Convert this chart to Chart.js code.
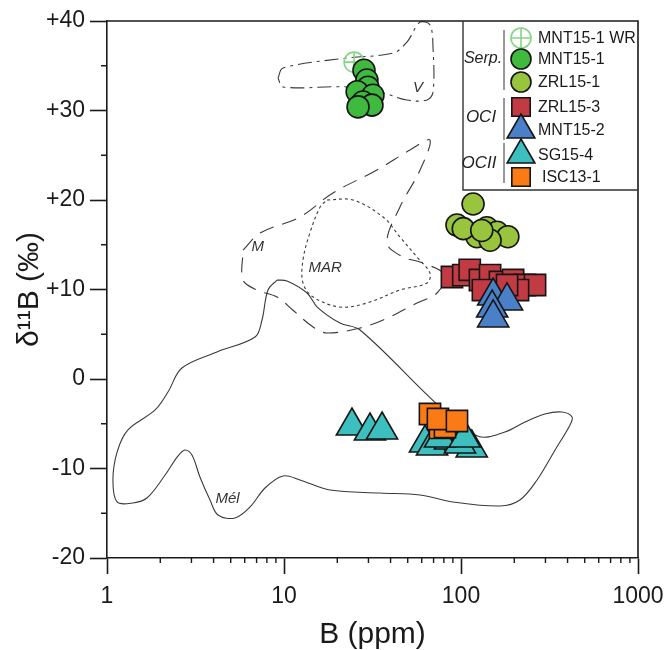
<!DOCTYPE html>
<html>
<head>
<meta charset="utf-8">
<script src="https://cdn.jsdelivr.net/npm/chart.js@4.4.1/dist/chart.umd.min.js"></script>
<style>
  html, body { margin: 0; padding: 0; background: #fff; }
  #wrap { position: relative; width: 667px; height: 650px; }
</style>
</head>
<body>
<div id="wrap"><canvas id="boronChart"></canvas></div>
<script>
// --- samples: B (ppm) and d11B (permil) ---
const wrB = [24.9];
const wrD = [35.4];
const mnt151B = [28.3, 29.4, 29.8, 25.9, 31.8, 27.9, 31.4, 26.2];
const mnt151D = [34.5, 33.4, 32.6, 32.1, 31.7, 30.95, 30.6, 30.4];
const zrl151B = [117, 94.9, 123, 140, 160, 184, 146, 103, 131];
const zrl151D = [19.55, 17.2, 15.9, 16.9, 16.4, 15.9, 15.5, 16.8, 16.6];
const zrl153B = [88.9, 103, 112, 128, 146, 166, 197, 230, 262, 133, 210, 182];
const zrl153D = [11.4, 11.6, 12.2, 11.06, 11.6, 10.84, 11.06, 10.5, 10.5, 9.94, 9.94, 10.5];
const mnt152B = [152, 182, 150, 152];
const mnt152D = [9.27, 8.72, 7.93, 6.82];
const sg154B = [24.2, 30.6, 35.8, 62.6, 68.6, 115, 86.7, 98.7, 76.1, 105];
const sg154D = [-5.25, -5.81, -5.7, -7.15, -7.49, -7.71, -6.82, -7.26, -6.6, -6.6];
const isc131B = [76.1, 81.2, 66.8, 74.1, 94.9];
const isc131D = [-5.47, -5.36, -3.91, -4.47, -4.69];

// --- reference fields (outlines) ---
const melB = [9.13, 8.12, 7.51, 6.86, 4.18, 2.65, 2.21, 1.87, 1.31, 1.14, 1.08, 1.14, 1.40, 1.68, 2.13, 2.49, 2.76, 3.02, 3.35, 3.82, 4.24, 5.29, 6.43, 7.81, 9.87, 12.3, 18.2, 34.9, 58.7, 90.1, 166, 215, 269, 340, 413, 424, 372, 298, 230, 177, 125, 76.1, 26.9, 20.7, 15.4, 13.5, 10.4, 9.13];
const melD = [11.06, 9.94, 6.59, 4.69, 3.02, 1.23, -1.45, -3.46, -5.7, -8.16, -11.28, -13.74, -13.85, -13.3, -10.73, -8.72, -7.93, -8.49, -10.95, -13.52, -15.2, -15.53, -14.3, -12.18, -10.84, -11.28, -12.4, -12.74, -12.96, -13.74, -14.19, -13.52, -11.28, -7.93, -5.14, -4.25, -3.69, -3.91, -4.8, -5.92, -6.4, -3.13, 5.47, 6.26, 8.04, 9.61, 10.95, 11.06];
const mB = [5.87, 7.32, 12.3, 18.9, 33.5, 51.5, 66.8, 58.7, 45.2, 38.2, 47.0, 58.7, 81.2, 73.2, 56.4, 36.3, 26.9, 17.5, 14.6, 11.2, 9.13, 7.03, 5.87, 5.87];
const mD = [14.41, 16.31, 18.1, 20.78, 23.35, 25.59, 26.7, 23.35, 19.22, 15.2, 13.63, 13.07, 11.62, 9.61, 8.49, 6.59, 5.7, 5.14, 5.81, 7.71, 9.16, 9.94, 11.06, 14.41];
const marB = [17.5, 24.5, 36.3, 45.2, 56.4, 66.8, 64.3, 45.2, 29.4, 20.7, 14.6, 12.8, 12.8, 14.0, 16.0, 17.5];
const marD = [20.0, 20.0, 18.1, 15.87, 13.63, 11.84, 10.73, 9.94, 8.49, 8.04, 9.16, 10.73, 13.3, 16.31, 19.22, 20.0];
const vB = [9.25, 9.87, 22.7, 41.3, 49.5, 58.7, 66.8, 69.5, 69.5, 64.3, 49.5, 36.3, 22.7, 9.87, 9.25];
const vD = [33.63, 34.75, 35.87, 36.42, 37.65, 39.89, 39.55, 36.98, 32.07, 31.17, 31.17, 31.96, 32.63, 32.63, 33.63];

const fieldNames = ['V', 'M', 'MAR', 'Mél'];
const fieldNameB = [57.2, 7.1, 17.1, 4.8];
const fieldNameD = [32.5, 14.8, 12.4, -13.4];

const yTicks = [-20, -10, 0, 10, 20, 30, 40];
const yMinor = [-15, -5, 5, 15, 25, 35];
const xTicks = [1, 10, 100, 1000];
const xMinor = [2, 3, 4, 5, 6, 7, 8, 9, 20, 30, 40, 50, 60, 70, 80, 90, 200, 300, 400, 500, 600, 700, 800, 900];

const pts = (xs, ys) => xs.map((x, i) => ({ x: x, y: ys[i] }));
const INK = '#1a1a1a';
const FONT = "'Liberation Sans', Arial, sans-serif";

function field(xs, ys, dash, order) {
    return {
        type: 'line', data: pts(xs, ys), borderColor: '#3a3a3a', borderWidth: 1.1,
        borderDash: dash, pointRadius: 0, tension: 0.35, fill: false, order: order
    };
}
function sample(xs, ys, style, r, color, order) {
    return {
        data: pts(xs, ys), pointStyle: style, pointRadius: r, pointHoverRadius: r,
        backgroundColor: color, borderColor: '#151515', pointBorderWidth: 1.6, order: order
    };
}

// legend rows: marker style, radius, fill, label
const legendRows = [
    ['circle', 10, null, 'MNT15-1 WR'],
    ['circle', 10, '#3fba3f', 'MNT15-1'],
    ['circle', 10, '#98c43e', 'ZRL15-1'],
    ['rect', 13, '#c23b43', 'ZRL15-3'],
    ['triangle', 16, '#4a80c8', 'MNT15-2'],
    ['triangle', 16, '#3ebfbf', 'SG15-4'],
    ['rect', 13, '#fa7b16', 'ISC13-1']
];
const legendRowY = [38, 59, 82, 107, 130, 155, 177];

const decorPlugin = {
    id: 'decor',
    afterDraw(chart) {
        const ctx = chart.ctx, a = chart.chartArea;
        const xs = chart.scales.x, ys = chart.scales.y;
        ctx.save();
        ctx.strokeStyle = INK;
        ctx.lineWidth = 1.6;
        // frame top + right
        ctx.beginPath();
        ctx.moveTo(a.left, a.top); ctx.lineTo(a.right, a.top); ctx.lineTo(a.right, a.bottom);
        ctx.stroke();
        // minor ticks
        ctx.lineWidth = 1.4;
        ctx.beginPath();
        yMinor.forEach(v => { const p = ys.getPixelForValue(v); ctx.moveTo(a.left - 6, p); ctx.lineTo(a.left, p); });
        xMinor.forEach(v => { const p = xs.getPixelForValue(v); ctx.moveTo(p, a.bottom); ctx.lineTo(p, a.bottom + 5); });
        ctx.stroke();

        // field labels
        ctx.fillStyle = '#333';
        ctx.font = 'italic 15px ' + FONT;
        ctx.textAlign = 'center';
        ctx.textBaseline = 'middle';
        fieldNames.forEach((t, i) => ctx.fillText(t, xs.getPixelForValue(fieldNameB[i]), ys.getPixelForValue(fieldNameD[i])));

        // legend box
        const L = a.right - 175, B = a.top + 169;
        ctx.fillStyle = '#fff';
        ctx.fillRect(L, a.top + 1, a.right - L - 1, B - a.top - 1);
        ctx.strokeStyle = '#333';
        ctx.lineWidth = 1.4;
        ctx.beginPath();
        ctx.moveTo(L, a.top); ctx.lineTo(L, B); ctx.lineTo(a.right, B);
        ctx.stroke();
        ctx.lineWidth = 1;
        ctx.beginPath();
        ctx.moveTo(L + 41, a.top + 9); ctx.lineTo(L + 41, a.top + 69);
        ctx.moveTo(L + 41, a.top + 77); ctx.lineTo(L + 41, a.top + 119);
        ctx.moveTo(L + 41, a.top + 122); ctx.lineTo(L + 41, a.top + 162);
        ctx.stroke();
        ctx.fillStyle = '#222';
        ctx.font = 'italic 16px ' + FONT;
        ctx.textAlign = 'center';
        ctx.fillText('Serp.', L + 20, legendRowY[1]);
        ctx.font = 'italic 17px ' + FONT;
        ctx.fillText('OCI', L + 18, 117);
        ctx.fillText('OCII', L + 16, 163);

        const mx = L + 58;
        legendRows.forEach((row, i) => {
            const y = legendRowY[i];
            ctx.lineWidth = 1.6;
            if (row[2]) {
                ctx.fillStyle = row[2];
                ctx.strokeStyle = '#151515';
                Chart.helpers.drawPoint(ctx, { pointStyle: row[0], radius: row[1], rotation: 0, borderWidth: 1.6 }, mx, y);
            } else {
                ctx.fillStyle = 'rgba(255,255,255,0)';
                ctx.strokeStyle = '#86d486';
                Chart.helpers.drawPoint(ctx, { pointStyle: 'circle', radius: row[1], rotation: 0, borderWidth: 1.6 }, mx, y);
                Chart.helpers.drawPoint(ctx, { pointStyle: 'cross', radius: row[1], rotation: 0, borderWidth: 1.6 }, mx, y);
            }
            ctx.fillStyle = '#1a1a1a';
            ctx.font = '16px ' + FONT;
            ctx.textAlign = 'left';
            ctx.fillText(row[3], i === 6 ? mx + 21 : mx + 17, y + 1);
        });
        ctx.restore();
    }
};

const canvas = document.getElementById('boronChart');
new Chart(canvas.getContext('2d'), {
    type: 'scatter',
    data: {
        datasets: [
            field(melB, melD, [], 20),
            field(mB, mD, [15, 9], 20),
            field(marB, marD, [3, 3], 20),
            field(vB, vD, [14, 5, 3, 5], 20),
            { data: pts(wrB, wrD), pointStyle: 'circle', pointRadius: 10, backgroundColor: 'rgba(255,255,255,0)',
              borderColor: '#86d486', pointBorderWidth: 1.6, order: 9 },
            { data: pts(wrB, wrD), pointStyle: 'cross', pointRadius: 10, borderColor: '#86d486', pointBorderWidth: 1.6, order: 9 },
            sample(mnt151B, mnt151D, 'circle', 11, '#3fba3f', 5),
            sample(zrl151B, zrl151D, 'circle', 11, '#98c43e', 5),
            sample(zrl153B, zrl153D, 'rect', 15, '#c23b43', 6),
            sample(mnt152B, mnt152D, 'triangle', 18, '#4a80c8', 4),
            sample(sg154B, sg154D, 'triangle', 18, '#3ebfbf', 6),
            sample(isc131B, isc131D, 'rect', 15, '#fa7b16', 3)
        ]
    },
    options: {
        responsive: true,
        maintainAspectRatio: false,
        animation: false,
        layout: { padding: { left: 0, top: 21, right: 29, bottom: 0 } },
        plugins: { legend: { display: false }, tooltip: { enabled: false } },
        scales: {
            x: {
                type: 'logarithmic', min: 1, max: 1000, position: 'bottom',
                afterBuildTicks: s => { s.ticks = xTicks.map(v => ({ value: v })); },
                afterFit: s => { s.height = 92; s.paddingLeft = 0; s.paddingRight = 0; },
                border: { display: true, color: INK, width: 1.6 },
                grid: { drawOnChartArea: false, drawTicks: true, tickLength: 16, tickColor: INK, tickWidth: 1.6 },
                ticks: { color: INK, font: { family: FONT, size: 23 }, padding: 9, maxRotation: 0,
                         callback: v => String(v) },
                title: { display: true, text: 'B (ppm)', color: INK, font: { family: FONT, size: 30 }, padding: { top: 0, bottom: -3 } }
            },
            y: {
                min: -20, max: 40,
                afterBuildTicks: s => { s.ticks = yTicks.map(v => ({ value: v })); },
                afterFit: s => { s.width = 107; s.paddingTop = 0; s.paddingBottom = 0; },
                border: { display: true, color: INK, width: 1.6 },
                grid: { drawOnChartArea: false, drawTicks: true, tickLength: 17, tickColor: INK, tickWidth: 1.6 },
                ticks: { color: INK, font: { family: FONT, size: 23 }, padding: 5,
                         callback: v => (v > 0 ? '+' + v : String(v)) },
                title: { display: true, text: 'δ¹¹B (‰)', color: INK, font: { family: FONT, size: 30 }, padding: { top: 12, bottom: 0 } }
            }
        }
    },
    plugins: [decorPlugin]
});
</script>
</body>
</html>
